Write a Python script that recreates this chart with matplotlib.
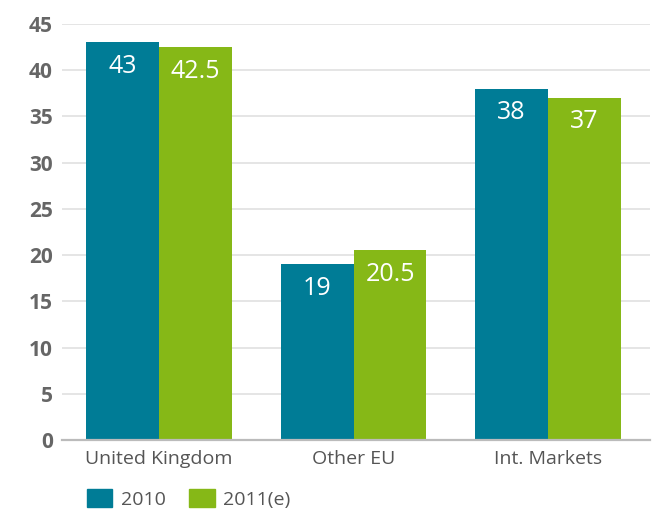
import matplotlib
matplotlib.use("Agg")
import matplotlib.pyplot as plt
from matplotlib.patches import Patch
import numpy as np

categories = ["United Kingdom", "Other EU", "Int. Markets"]
series_names = ["2010", "2011(e)"]
values_2010 = [43, 19, 38]
values_2011 = [42.5, 20.5, 37]
labels_2010 = ["43", "19", "38"]
labels_2011 = ["42.5", "20.5", "37"]
yticks = [0, 5, 10, 15, 20, 25, 30, 35, 40, 45]

c2010 = "#007c96"
c2011 = "#86b817"

plt.rcParams['font.family'] = ['Open Sans', 'DejaVu Sans']

fig = plt.figure(figsize=(6.55, 5.09), dpi=100)
ax = fig.add_axes([62/655, 1-440/509, (650-62)/655, (440-24)/509])

x = np.arange(len(categories))
w = 0.375
b1 = ax.bar(x - w/2, values_2010, w, color=c2010, zorder=3)
b2 = ax.bar(x + w/2, values_2011, w, color=c2011, zorder=3)

for rects, labs in ((b1, labels_2010), (b2, labels_2011)):
    for r, lab in zip(rects, labs):
        ax.annotate(lab, (r.get_x() + r.get_width()/2, r.get_height()),
                    xytext=(0, -24), textcoords="offset pixels",
                    ha="center", va="center", color="white", fontsize=18)

ax.set_xlim(-0.5, 2.525)
ax.set_ylim(0, 45)
ax.set_yticks(yticks)
ax.set_yticklabels([str(t) for t in yticks], fontweight="bold", fontsize=15, color="#666666")
ax.set_xticks(x)
ax.set_xticklabels(categories, fontsize=14, color="#555555")
ax.tick_params(axis="both", length=0)
ax.tick_params(axis="y", pad=6.5)
ax.tick_params(axis="x", pad=7)
ax.yaxis.grid(True, color="#e3e3e3", linewidth=1.3, zorder=0)
ax.set_axisbelow(True)
for s in ["left", "right", "top"]:
    ax.spines[s].set_visible(False)
ax.spines["bottom"].set_color("#bbbbbb")
ax.spines["bottom"].set_linewidth(1.6)
ax.spines["bottom"].set_zorder(4)

handles = [Patch(color=c2010), Patch(color=c2011)]
fig.legend(handles, series_names, loc="center left",
           bbox_to_anchor=(87/655, 1-499/509), ncol=2, frameon=False,
           fontsize=14, labelcolor="#555555", borderpad=0, borderaxespad=0,
           handlelength=1.3, handleheight=1.0, handletextpad=0.45,
           columnspacing=1.2)

fig.savefig("out.png", dpi=100)
